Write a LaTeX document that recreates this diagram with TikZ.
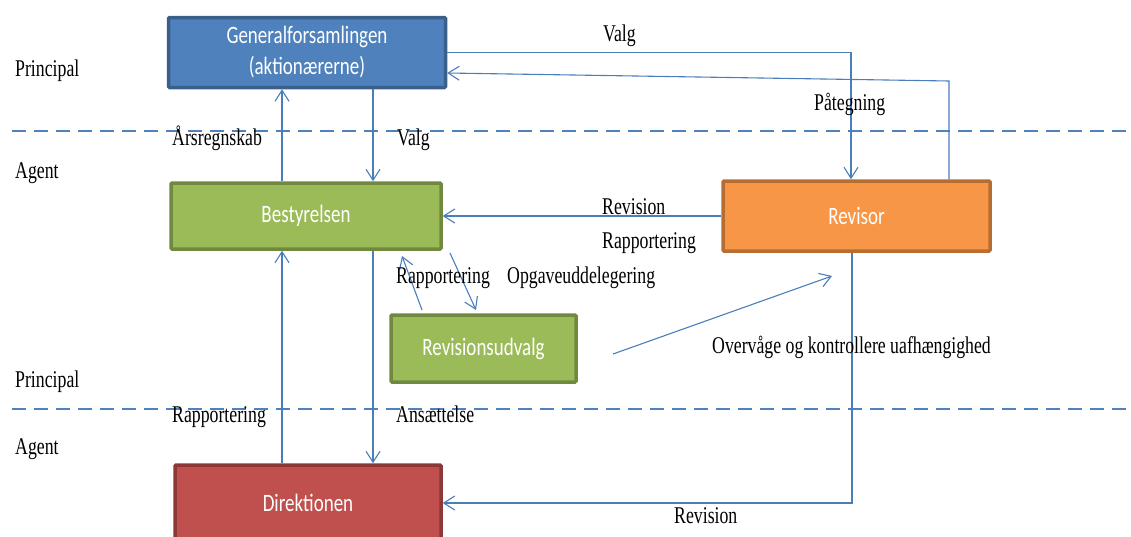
\documentclass[tikz,border=0pt]{standalone}
\usepackage{fontspec}
\setmainfont{Liberation Serif}[FakeStretch=0.74]
\newfontfamily\boxfont{Carlito}[FakeStretch=0.76]
\usetikzlibrary{arrows.meta,calc}
\definecolor{gablue}{HTML}{4F81BD}
\definecolor{gablueb}{HTML}{3A5F8B}
\definecolor{bgreen}{HTML}{9BBB59}
\definecolor{bgreenb}{HTML}{71893F}
\definecolor{rorange}{HTML}{F79646}
\definecolor{rorangeb}{HTML}{B66D31}
\definecolor{dred}{HTML}{C0504D}
\definecolor{dredb}{HTML}{8C3836}
\definecolor{arrowc}{HTML}{4A7EBB}
\tikzset{
  orgbox/.style={draw, line width=3.5pt, rounded corners=1pt, text=white,
    font=\boxfont\fontsize{25}{31}\selectfont, align=center, inner sep=0pt},
  arr/.style={draw=arrowc, line width=1.1pt, -{Straight Barb[length=11pt,width=14pt]}},
  lbl/.style={anchor=base west, inner sep=0pt, font=\fontsize{24}{28}\selectfont},
  divider/.style={draw=gablue, line width=1.5pt, dash pattern=on 14pt off 8pt}
}
\begin{document}
\begin{tikzpicture}[x=1pt,y=-1pt]
\useasboundingbox (0,0) rectangle (1131,536);
\clip (0,0) rectangle (1131,536);
% dividers
\coordinate (d1a) at (12,131); \coordinate (d1b) at (1131,131);
\coordinate (d2a) at (12,409); \coordinate (d2b) at (1131,409);
\draw[divider] (d1a) -- (d1b);
\draw[divider] (d2a) -- (d2b);
% boxes
\node[orgbox, fill=gablue, draw=gablueb, minimum width=277pt, minimum height=70pt] (ga) at (307,52.5) {Generalforsamlingen\\(aktionærerne)};
\node[orgbox, fill=bgreen, draw=bgreenb, minimum width=270pt, minimum height=66pt] (bst) at (306,216) {Bestyrelsen};
\node[orgbox, fill=rorange, draw=rorangeb, minimum width=267pt, minimum height=70pt] (rev) at (856.5,216) {Revisor};
\node[orgbox, fill=bgreen, draw=bgreenb, minimum width=185pt, minimum height=67pt] (ru) at (483.5,348.5) {Revisionsudvalg};
\node[orgbox, fill=dred, draw=dredb, minimum width=266pt, minimum height=76pt] (dir) at (308,503) {Direktionen};
% helper coordinates
\coordinate (x282) at (282,0);
\coordinate (x373) at (373,0);
\coordinate (x851) at (851,0);
\coordinate (x852) at (852,0);
\coordinate (p1) at (949,81);
\coordinate (p2) at (0,73);
\coordinate (r1) at (422,310);
\coordinate (r2) at (402,256);
\coordinate (o1) at (450,253);
\coordinate (o2) at (476,310);
\coordinate (v1) at (613,354);
\coordinate (v2) at (832,276);
% connectors
\draw[arr] (bst.north -| x282) -- (ga.south -| x282);
\draw[arr] (ga.south -| x373) -- (bst.north -| x373);
\draw[arr] (ga.east) -| (rev.north -| x851);
\draw[arr] (rev.north -| p1) -- (p1) -- (ga.east |- p2);
\draw[arr] (rev.west) -- (bst.east);
\draw[arr] (r1) -- (r2);
\draw[arr] (o1) -- (o2);
\draw[arr] (v1) -- (v2);
\draw[arr] (rev.south -| x852) |- (dir.east);
\draw[arr] (dir.north -| x282) -- (bst.south -| x282);
\draw[arr] (bst.south -| x373) -- (dir.north -| x373);
% labels
\node[lbl] (lp1) at (15,76) {Principal};
\node[lbl] (la1) at (15,178) {Agent};
\node[lbl] (lp2) at (15,387) {Principal};
\node[lbl] (la2) at (15,454) {Agent};
\node[lbl] (t1) at (603,41) {Valg};
\node[lbl] (t2) at (172,145) {Årsregnskab};
\node[lbl] (t3) at (397,145) {Valg};
\node[lbl] (t4) at (814,110) {Påtegning};
\node[lbl] (t5) at (602,214) {Revision};
\node[lbl] (t6) at (602,248) {Rapportering};
\node[lbl] (t7) at (396,283) {Rapportering};
\node[lbl] (t8) at (507,283) {Opgaveuddelegering};
\node[lbl] (t9) at (712,353) {Overvåge og kontrollere uafhængighed};
\node[lbl] (t10) at (172,422) {Rapportering};
\node[lbl] (t11) at (396,422) {Ansættelse};
\node[lbl] (t12) at (674,523) {Revision};
\end{tikzpicture}
\end{document}
